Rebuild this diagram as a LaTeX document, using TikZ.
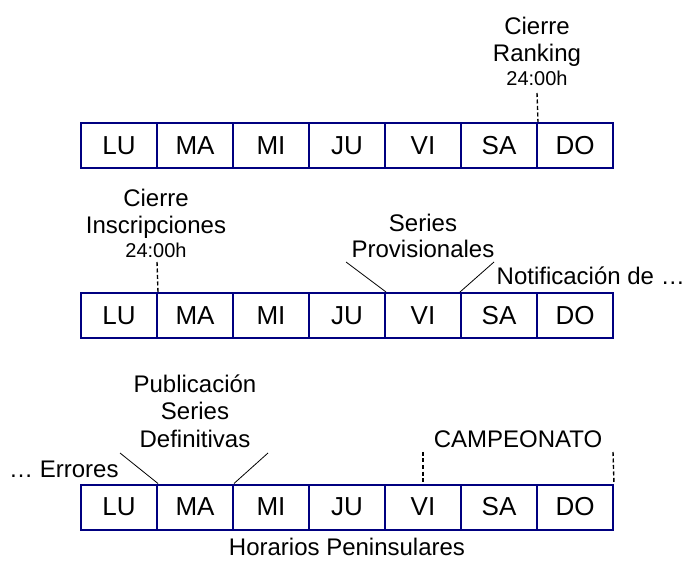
\documentclass[tikz,border=0pt]{standalone}
\usepackage{fontspec}
\setmainfont{Liberation Sans}
\definecolor{boxblue}{RGB}{0,0,128}
\begin{document}
\begin{tikzpicture}[x=1pt,y=-1pt,
  day/.style={draw=boxblue,line width=2pt,minimum width=76pt,minimum height=45pt,inner sep=0pt,font=\fontsize{26}{30}\selectfont},
  lbl/.style={anchor=base,inner sep=0pt,font=\fontsize{24}{28}\selectfont},
  tim/.style={anchor=base,inner sep=0pt,font=\fontsize{20}{24}\selectfont},
  dsh/.style={draw=black,line width=1.4pt,dash pattern=on 4pt off 2.5pt},
  thinline/.style={draw=black,line width=0.8pt}]
\useasboundingbox (0,0) rectangle (686,561);
% rows of days
\foreach \d [count=\i] in {LU,MA,MI,JU,VI,SA,DO} {
  \node[day] (r1d\i) at ({43+76*\i},145.5) {\d};
  \node[day] (r2d\i) at ({43+76*\i},315.5) {\d};
  \node[day] (r3d\i) at ({43+76*\i},507) {\d};
}
% row 1
\node[lbl] (r1a) at (537,35) {Cierre};
\node[lbl] (r1b) at (537,62) {Ranking};
\node[tim] (r1c) at (537,86) {24:00h};
\coordinate (r1t) at (537,93);
\draw[dsh] (r1t) -- (r1d6.north east);
% row 2
\node[lbl] (r2a) at (156,207) {Cierre};
\node[lbl] (r2b) at (156,234) {Inscripciones};
\node[tim] (r2c) at (156,258) {24:00h};
\coordinate (r2t) at (157,262);
\draw[dsh] (r2t) -- (r2d1.north east);
\node[lbl] (r2s) at (423,232) {Series};
\node[lbl] (r2p) at (423,258) {Provisionales};
\coordinate (r2l) at (346,262);
\coordinate (r2r) at (494,262);
\draw[thinline] (r2l) -- (r2d4.north east);
\draw[thinline] (r2r) -- (r2d6.north west);
\node[lbl,anchor=base east] (r2n) at (685,285) {Notificación de …};
% row 3
\node[lbl] (r3a) at (195,393) {Publicación};
\node[lbl] (r3b) at (195,420) {Series};
\node[lbl] (r3c) at (195,448) {Definitivas};
\coordinate (r3l) at (120,453);
\coordinate (r3r) at (268,453);
\draw[thinline] (r3l) -- (r3d1.north east);
\draw[thinline] (r3r) -- (r3d2.north east);
\node[lbl,anchor=base west] (r3e) at (9,478) {… Errores};
\node[lbl] (r3k) at (518,448) {CAMPEONATO};
\coordinate (r3k1) at (423,452);
\coordinate (r3k2) at (613,452);
\draw[dsh] (r3k1) -- (r3d5.north);
\draw[dsh] (r3k2) -- (r3d7.north east);
\node[lbl] (r3h) at (347,555) {Horarios Peninsulares};
\end{tikzpicture}
\end{document}
